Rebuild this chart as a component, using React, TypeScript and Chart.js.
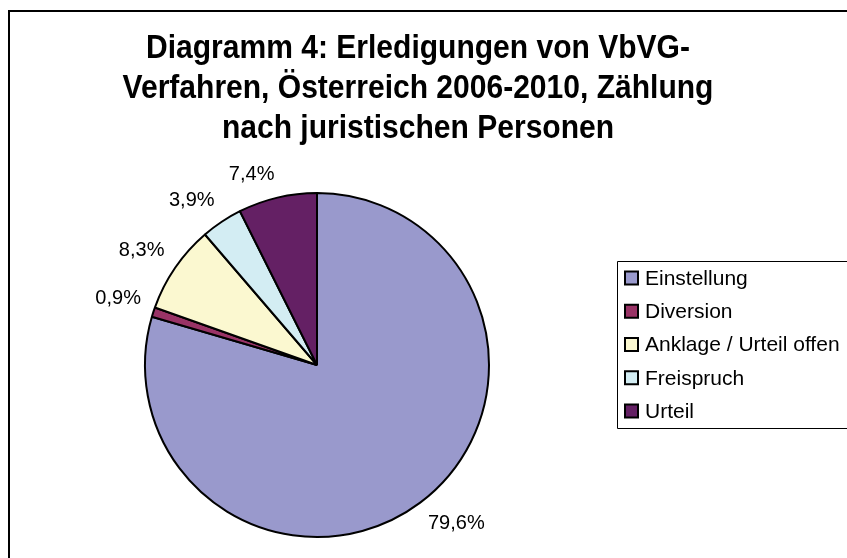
import React, { useEffect, useRef } from "react";
import { Chart, registerables } from "chart.js";

Chart.register(...registerables);

const categories = ["Einstellung", "Diversion", "Anklage / Urteil offen", "Freispruch", "Urteil"];
const shares = [79.6, 0.9, 8.3, 3.9, 7.4];
const percentLabels = ["79,6%", "0,9%", "8,3%", "3,9%", "7,4%"];
const sliceColors = ["#9999cc", "#993366", "#fbf8d0", "#d3edf3", "#642064"];
const titleLines = [
  "Diagramm 4: Erledigungen von VbVG-",
  "Verfahren, Österreich 2006-2010, Zählung",
  "nach juristischen Personen",
];

const W = 847;
const H = 558;
const FONT = '"Liberation Sans", Arial, sans-serif';

const decorPlugin = {
  id: "decor",
  beforeDraw(chart: any) {
    const ctx = chart.ctx;
    ctx.save();
    ctx.fillStyle = "#ffffff";
    ctx.fillRect(0, 0, W, H);
    ctx.strokeStyle = "#000000";
    ctx.lineWidth = 2;
    ctx.beginPath();
    ctx.moveTo(9, H + 5);
    ctx.lineTo(9, 11);
    ctx.lineTo(W + 5, 11);
    ctx.stroke();
    ctx.restore();
  },
  afterDraw(chart: any) {
    const ctx = chart.ctx;
    ctx.save();
    // title (slightly condensed bold face)
    ctx.fillStyle = "#000000";
    ctx.font = `bold 33px ${FONT}`;
    ctx.textAlign = "center";
    ctx.textBaseline = "middle";
    titleLines.forEach((t, i) => {
      ctx.save();
      ctx.translate(418, 49 + i * 40);
      ctx.scale(0.91, 1);
      ctx.fillText(t, 0, 0);
      ctx.restore();
    });

    // percentage labels: nearest corner of label box just outside the arc
    const meta = chart.getDatasetMeta(0);
    ctx.font = `20px ${FONT}`;
    meta.data.forEach((arc: any, i: number) => {
      const p = arc.getProps(["x", "y", "startAngle", "endAngle", "outerRadius"], true);
      const mid = (p.startAngle + p.endAngle) / 2;
      const dx = Math.cos(mid);
      const dy = Math.sin(mid);
      const txt = percentLabels[i];
      const w = ctx.measureText(txt).width;
      const h = 20;
      const r = p.outerRadius + 13;
      const px = p.x + dx * r;
      const py = p.y + dy * r;
      ctx.fillText(txt, px + Math.sign(dx) * w / 2, py + Math.sign(dy) * h / 2);
    });

    // legend
    const lx = 617;
    const ly = 261;
    ctx.strokeStyle = "#000000";
    ctx.lineWidth = 1;
    ctx.beginPath();
    ctx.moveTo(W + 5, ly + 0.5);
    ctx.lineTo(lx + 0.5, ly + 0.5);
    ctx.lineTo(lx + 0.5, 428.5);
    ctx.lineTo(W + 5, 428.5);
    ctx.stroke();
    ctx.textAlign = "left";
    ctx.font = `21px ${FONT}`;
    categories.forEach((c, i) => {
      const cy = 278 + i * 33.25;
      ctx.fillStyle = sliceColors[i];
      ctx.fillRect(625, cy - 6.5, 13, 13);
      ctx.strokeStyle = "#000000";
      ctx.lineWidth = 2;
      ctx.strokeRect(625, cy - 6.5, 13, 13);
      ctx.fillStyle = "#000000";
      ctx.fillText(c, 645, cy + 1);
    });
    ctx.restore();
  },
};

export default function App() {
  const ref = useRef<HTMLCanvasElement | null>(null);
  useEffect(() => {
    if (!ref.current) return;
    const chart = new Chart(ref.current, {
      type: "pie",
      data: {
        labels: categories,
        datasets: [
          {
            data: shares,
            backgroundColor: sliceColors,
            borderColor: "#000000",
            borderWidth: 2,
            hoverOffset: 0,
          },
        ],
      },
      options: {
        responsive: false,
        animation: false,
        radius: 172,
        layout: { padding: { left: 117, right: 330, top: 175, bottom: 3 } },
        plugins: {
          legend: { display: false },
          title: { display: false },
          tooltip: { enabled: false },
        },
      } as any,
      plugins: [decorPlugin],
    });
    return () => chart.destroy();
  }, []);
  return (
    <div style={{ position: "fixed", left: 0, top: 0, width: W, height: H }}>
      <canvas ref={ref} width={W} height={H} style={{ display: "block", width: W, height: H }} />
    </div>
  );
}
